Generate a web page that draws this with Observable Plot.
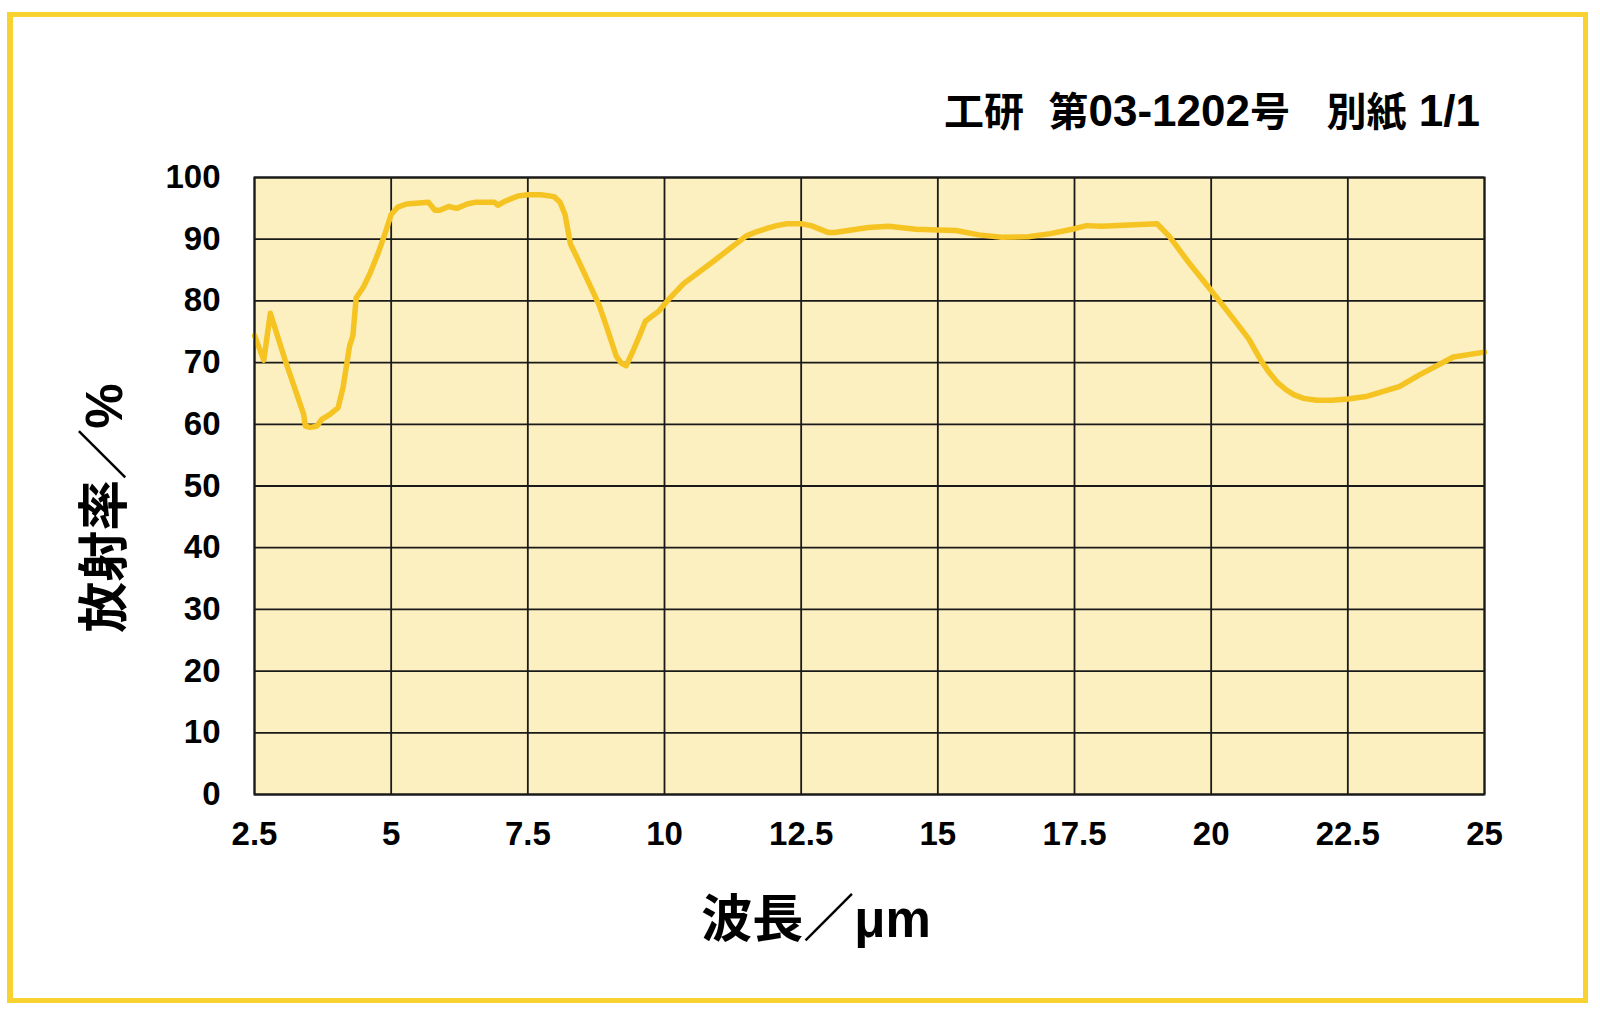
<!DOCTYPE html>
<html>
<head>
<meta charset="utf-8">
<script src="https://cdn.jsdelivr.net/npm/d3@7"></script>
<script src="https://cdn.jsdelivr.net/npm/@observablehq/plot@0.6"></script>
<style>
  html, body { margin: 0; padding: 0; background: #fff; }
  #page { position: relative; width: 1600px; height: 1017px; overflow: hidden;
          font-family: "Liberation Sans", "Noto Sans CJK JP", sans-serif; font-weight: bold; color: #000; }
  #frame { position: absolute; left: 7px; top: 12px; width: 1570px; height: 981px;
           border-style: solid; border-color: #F7D231; border-width: 5px 5px 5px 6px; }
  #chart { position: absolute; left: 0; top: 0; }
  #title { position: absolute; right: 120px; top: 89px; font-size: 40px; line-height: 40px; white-space: pre;
           font-family: "Noto Sans CJK JP", sans-serif; }
  #title .lat { font-family: "Liberation Sans Narrow", "Liberation Sans", sans-serif; font-size: 44px; }
  #ylabel { position: absolute; left: 100px; top: 508px; font-size: 51px; white-space: pre;
            transform: translate(-50%, -50%) rotate(-90deg); }
  #xlabel { position: absolute; left: 816px; top: 915px; font-size: 51px; white-space: pre;
            transform: translate(-50%, -50%); }
</style>
</head>
<body>
<div id="page">
  <div id="frame"></div>
  <div id="chart"></div>
  <div id="title"></div>
  <div id="ylabel"></div>
  <div id="xlabel"></div>
</div>
<script>
// ---- data ----
const titleText = "工研  第03-1202号   別紙 1/1";
const xLabelText = "波長／μm";
const yLabelText = "放射率／%";

const xTicks = [2.5, 5, 7.5, 10, 12.5, 15, 17.5, 20, 22.5, 25];
const yTicks = [0, 10, 20, 30, 40, 50, 60, 70, 80, 90, 100];

const wavelength = [2.5,2.67,2.79,3.06,3.4,3.43,3.52,3.64,3.73,3.88,4.03,4.12,4.24,4.3,4.36,4.49,4.61,4.76,4.88,5.0,5.12,5.28,5.68,5.8,5.89,6.05,6.2,6.39,6.55,6.89,6.95,7.07,7.32,7.5,7.74,7.98,8.09,8.18,8.28,8.39,8.68,8.8,8.91,9.12,9.21,9.3,9.42,9.55,9.65,9.89,10.05,10.35,10.92,11.49,11.68,11.86,12.05,12.24,12.5,12.68,12.99,13.11,13.73,14.1,14.6,15.0,15.33,15.75,16.17,16.65,17.06,17.5,17.72,17.99,19.01,19.23,19.6,20.0,20.45,20.69,20.92,21.07,21.22,21.37,21.51,21.69,21.93,22.22,22.5,22.83,23.44,23.81,24.43,25];
const emissivity = [74.4,70.4,78.0,70.4,61.6,59.7,59.5,59.7,60.8,61.6,62.7,66,72.7,74.4,80.5,82.2,84.4,87.7,90.7,94,95.2,95.7,96,94.7,94.7,95.3,95,95.7,96,96,95.5,96.1,97,97.2,97.2,96.9,96,94,89.2,87.2,81.7,79.4,76.6,71,69.9,69.5,71.8,74.5,76.7,78.3,80,82.8,86.6,90.5,91.2,91.7,92.2,92.5,92.5,92.2,91.1,91.1,91.9,92.1,91.6,91.5,91.4,90.7,90.3,90.4,90.9,91.7,92.2,92.1,92.5,90.5,86.1,81.7,76.6,73.8,70.2,68.3,66.7,65.6,64.8,64.2,63.9,63.9,64.1,64.5,66.1,68,70.9,71.7];

// ---- build ----
const data = wavelength.map((w, i) => ({w, e: emissivity[i]}));

// title: CJK runs in the CJK font, Latin runs in a condensed face (as in the original)
const titleEl = document.getElementById("title");
for (const run of titleText.match(/[\u3000-\u9fff\uff00-\uffef]+|[^\u3000-\u9fff\uff00-\uffef]+/g)) {
  const span = document.createElement("span");
  span.textContent = run;
  if (!/[\u3000-\u9fff\uff00-\uffef]/.test(run)) span.className = "lat";
  titleEl.appendChild(span);
}
document.getElementById("xlabel").textContent = xLabelText;
document.getElementById("ylabel").textContent = yLabelText;

const chart = Plot.plot({
  width: 1600,
  height: 1017,
  marginLeft: 254,
  marginRight: 116,
  marginTop: 177,
  marginBottom: 223,
  style: {fontFamily: "'Liberation Sans', 'Noto Sans CJK JP', sans-serif", fontWeight: "bold", fontSize: "33px", background: "transparent", color: "#000", overflow: "visible"},
  x: {domain: [2.5, 25]},
  y: {domain: [0, 100]},
  marks: [
    Plot.frame({fill: "#FCEFC0", stroke: null}),
    Plot.ruleX(xTicks, {stroke: "#1a1a1a", strokeWidth: 1.8}),
    Plot.ruleY(yTicks, {stroke: "#1a1a1a", strokeWidth: 1.8}),
    Plot.axisX(xTicks, {anchor: "bottom", tickSize: 0, tickPadding: 27, fontSize: 33, tickFormat: d => String(d), label: null}),
    Plot.axisY(yTicks, {anchor: "left", tickSize: 0, tickPadding: 34, fontSize: 33, tickFormat: d => String(d), label: null}),
    Plot.line(data, {x: "w", y: "e", stroke: "#F5C422", strokeWidth: 5.5, curve: "linear", strokeLinejoin: "round", strokeLinecap: "round"}),
    Plot.frame({stroke: "#1a1a1a", strokeWidth: 2})
  ]
});
document.getElementById("chart").appendChild(chart);
</script>
</body>
</html>
